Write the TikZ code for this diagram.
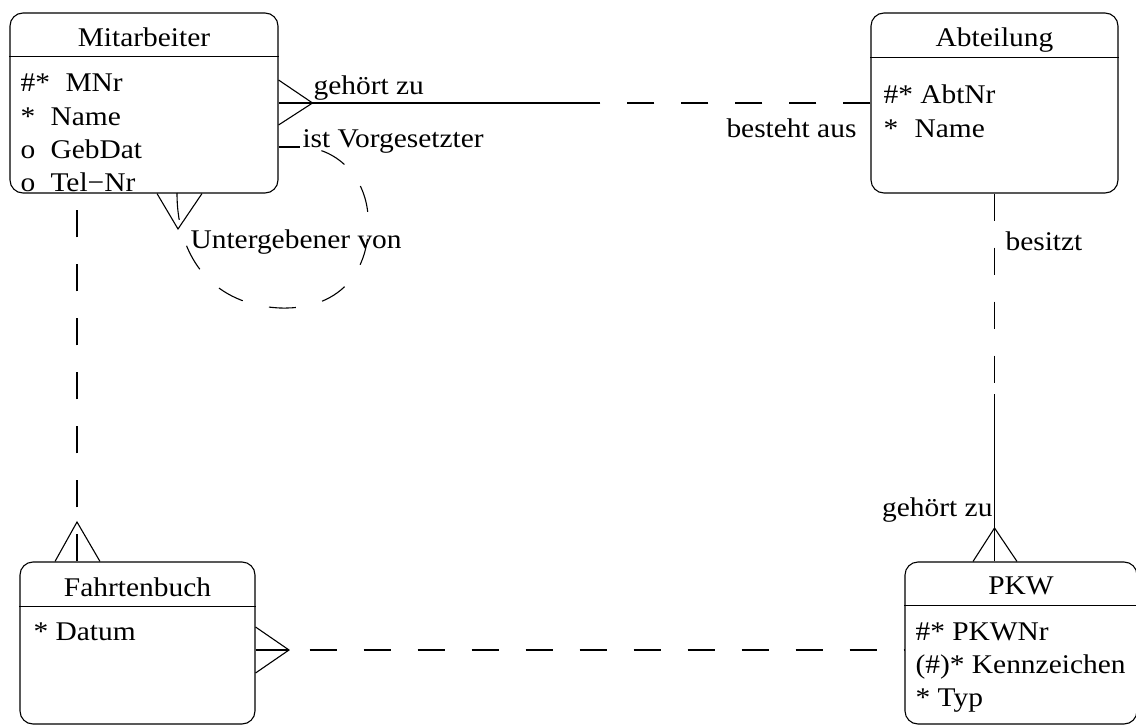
\documentclass[tikz,border=0pt]{standalone}
\usepackage{fontspec}
\setmainfont{Liberation Serif}[FakeStretch=1.09]

\tikzstyle{entity} = [rectangle, draw, rounded corners=13pt, inner sep=0pt]
\tikzstyle{etitle} = [anchor=base, inner sep=0pt]
\tikzstyle{attr} = [anchor=base west, inner sep=0pt]
\tikzstyle{rel} = [anchor=base west, inner sep=0pt]
\tikzstyle{optional} = [dash pattern=on 27pt off 27pt]

\begin{document}
\begin{tikzpicture}[x=1pt, y=-1pt, line width=1.1pt, font=\fontsize{27}{33}\selectfont]

\useasboundingbox (0,0) rectangle (1136,725);
\clip (0,0) rectangle (1136,725);

\node [entity, minimum width=268pt, minimum height=180pt] (mit) at (144,103) {};

\node [entity, minimum width=247pt, minimum height=180pt] (abt) at (994.5,103) {};

\node [entity, minimum width=235pt, minimum height=162pt] (fb) at (137.5,643) {};

\node [entity, minimum width=232pt, minimum height=162pt] (pkw) at (1021,643) {};

% Kopf
\node [etitle] (mit-t) at ([yshift=-34pt]mit.north) {Mitarbeiter};
\draw ([yshift=-44pt]mit.north west) -- ([yshift=-44pt]mit.north east);

\node [etitle] (abt-t) at ([yshift=-34pt]abt.north) {Abteilung};
\draw ([yshift=-45pt]abt.north west) -- ([yshift=-45pt]abt.north east);

\node [etitle] (fb-t) at ([yshift=-35pt]fb.north) {Fahrtenbuch};
\draw ([yshift=-45pt]fb.north west) -- ([yshift=-45pt]fb.north east);

\node [etitle] (pkw-t) at ([yshift=-33pt]pkw.north) {PKW};
\draw ([yshift=-44pt]pkw.north west) -- ([yshift=-44pt]pkw.north east);

% Attribute
\node [attr] (mit-a1) at (20,92) {\makebox[45pt][l]{\#*}MNr};
\node [attr] (mit-a2) at (20,125) {\makebox[30pt][l]{*}Name};
\node [attr] (mit-a3) at (20,158) {\makebox[30pt][l]{o}GebDat};
\node [attr] (mit-a4) at (20,191) {\makebox[30pt][l]{o}Tel−Nr};

\node [attr] (abt-a1) at (883,103) {\#* AbtNr};
\node [attr] (abt-a2) at (883,137) {\makebox[31pt][l]{*}Name};

\node [attr] (fb-a1) at (33,640) {* Datum};

\node [attr] (pkw-a1) at (915,640) {\#* PKWNr};
\node [attr] (pkw-a2) at (915,673) {(\#)* Kennzeichen};
\node [attr] (pkw-a3) at (915,706) {* Typ};

% Beziehungen
\coordinate (ma) at (598,103);
\draw (mit.east) -- (ma);
\draw [optional] (abt.west) -- (ma);
\draw ([yshift=23pt]mit.east) -- ([xshift=34pt]mit.east) -- ([yshift=-22pt]mit.east);

\coordinate (vg) at (300,147);
\coordinate (ug) at (177,193);
\draw ([yshift=-44pt]mit.east) -- (vg);
\draw [optional] (ug) .. controls (177,260) and (215,305) .. (280,308) .. controls (345,310) and (372,265) .. (368,215) .. controls (365,175) and (335,147) .. (vg);
\draw ([xshift=13pt]mit.south) -- (178,229) -- ([xshift=58pt]mit.south);

\draw [optional] ([xshift=-60.5pt]fb.north) -- ([xshift=-67pt]mit.south);
\draw ([xshift=-82.5pt]fb.north) -- (77,522) -- ([xshift=-37.5pt]fb.north);

\coordinate (ap) at (994.5,394);
\draw [optional] (abt.south) -- (ap);
\draw ([xshift=-26.5pt]pkw.north) -- (ap);
\draw ([xshift=-48pt]pkw.north) -- (994.5,528) -- ([xshift=-4pt]pkw.north);

\draw [optional] ([yshift=-7pt]fb.east) -- ([yshift=-7pt]pkw.west);
\draw ([yshift=16pt]fb.east) -- (289,650) -- ([yshift=-30pt]fb.east);
\draw ([yshift=-7pt]fb.east) -- (289,650);

% Rollen
\node [rel] (r1) at (313,95) {gehört zu};
\node [rel, anchor=base east] (r2) at (857,137) {besteht aus};
\node [rel] (r3) at (302,147) {ist Vorgesetzter};
\node [rel] (r4) at (190,248) {Untergebener von};
\node [rel] (r5) at (1005,250) {besitzt};
\node [rel, anchor=base east] (r6) at (993,516) {gehört zu};

\end{tikzpicture}
\end{document}
